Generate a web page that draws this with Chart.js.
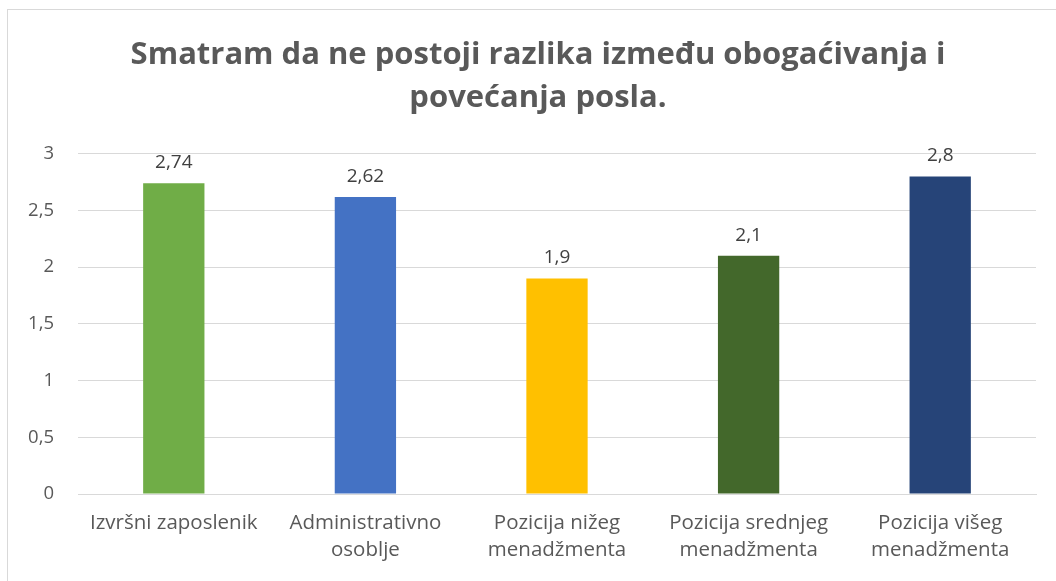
<!DOCTYPE html>
<html>
<head>
<meta charset="utf-8">
<script src="https://cdn.jsdelivr.net/npm/chart.js@4.4.0/dist/chart.umd.min.js"></script>
<style>
html,body{margin:0;padding:0;background:#fff;}
#wrap{width:1056px;height:581px;position:relative;}
</style>
</head>
<body>
<div id="wrap"><canvas id="c" width="1056" height="581"></canvas></div>
<script>
const titleLines = ['Smatram da ne postoji razlika između obogaćivanja i', 'povećanja posla.'];
const categories = [
  ['Izvršni zaposlenik'],
  ['Administrativno', 'osoblje'],
  ['Pozicija nižeg', 'menadžmenta'],
  ['Pozicija srednjeg', 'menadžmenta'],
  ['Pozicija višeg', 'menadžmenta']
];
const values = [2.74, 2.62, 1.9, 2.1, 2.8];
const barColors = ['#70AD47', '#4472C4', '#FFC000', '#43682B', '#264478'];
const yTicks = [0, 0.5, 1, 1.5, 2, 2.5, 3];

const FONT = '"Open Sans", "DejaVu Sans", sans-serif';
const fmt = v => String(v).replace('.', ',');

const borderPlugin = {
  id: 'frame',
  afterLayout(chart) {
    const t = chart.titleBlock;
    if (t) { t.left += 16; t.right += 16; }
  },
  beforeDraw(chart) {
    const ctx = chart.ctx;
    ctx.save();
    ctx.fillStyle = '#fff';
    ctx.fillRect(0, 0, chart.width, chart.height);
    ctx.strokeStyle = '#d9d9d9';
    ctx.lineWidth = 1;
    ctx.strokeRect(7.5, 9.5, 1070, 600);
    ctx.restore();
  }
};

const labelPlugin = {
  id: 'valueLabels',
  afterDatasetsDraw(chart) {
    const ctx = chart.ctx;
    const meta = chart.getDatasetMeta(0);
    ctx.save();
    ctx.font = '19px ' + FONT;
    ctx.fillStyle = '#404040';
    ctx.textAlign = 'center';
    ctx.textBaseline = 'bottom';
    meta.data.forEach((bar, i) => {
      ctx.fillText(fmt(values[i]), bar.x, bar.y - 11);
    });
    ctx.restore();
  }
};

new Chart(document.getElementById('c'), {
  type: 'bar',
  data: {
    labels: categories,
    datasets: [{
      data: values,
      backgroundColor: barColors,
      borderWidth: 0,
      categoryPercentage: 1,
      barPercentage: 0.32
    }]
  },
  options: {
    responsive: false,
    animation: false,
    devicePixelRatio: 1,
    layout: { padding: { left: 8, right: 20, top: 0, bottom: 0 } },
    plugins: {
      legend: { display: false },
      tooltip: { enabled: false },
      title: {
        display: true,
        text: titleLines,
        color: '#595959',
        font: { family: FONT, size: 31, weight: 'bold', lineHeight: 1.4 },
        padding: { top: 33, bottom: 34 }
      }
    },
    scales: {
      x: {
        grid: { display: false, drawTicks: false },
        border: { display: true, color: '#d9d9d9' },
        ticks: { color: '#595959', font: { family: FONT, size: 20.5, lineHeight: 1.3 }, padding: 16, maxRotation: 0, autoSkip: false },
        afterFit(s) { s.height = 87; }
      },
      y: {
        min: 0, max: 3,
        afterBuildTicks(s) { s.ticks = yTicks.map(v => ({ value: v })); },
        grid: { color: '#d9d9d9', drawTicks: false },
        border: { display: false },
        ticks: { color: '#595959', font: { family: FONT, size: 18.5 }, padding: 24, callback: v => fmt(v) },
        afterFit(s) { s.width = 70; }
      }
    }
  },
  plugins: [borderPlugin, labelPlugin]
});
</script>
</body>
</html>
